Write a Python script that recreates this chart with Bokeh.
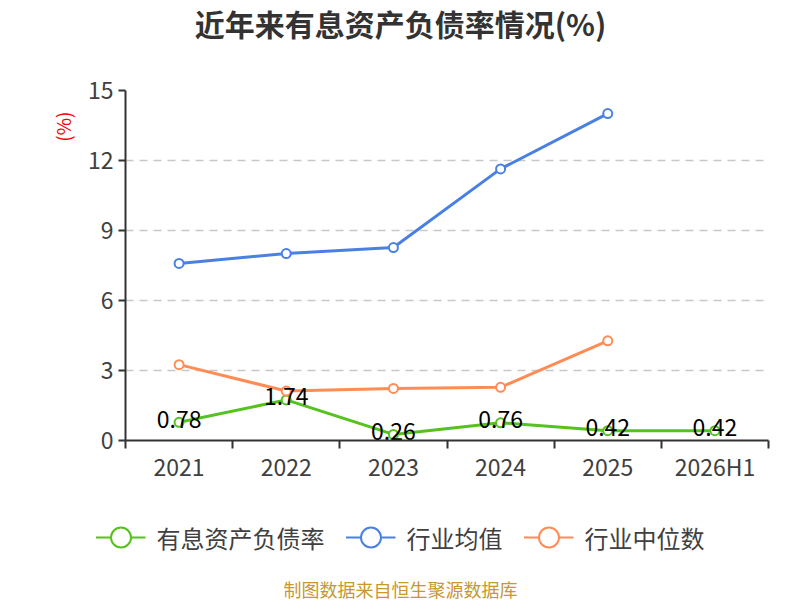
from bokeh.plotting import figure
from bokeh.layouts import column
from bokeh.models import (ColumnDataSource, Range1d, FixedTicker, Legend, LegendItem,
                          Title)
from bokeh.embed import file_html
from bokeh.resources import INLINE
from bokeh.core.properties import value

# data
categories = ["2021", "2022", "2023", "2024", "2025", "2026H1"]
debt_ratio = [0.78, 1.74, 0.26, 0.76, 0.42, 0.42]
industry_mean = [7.59, 8.01, 8.27, 11.64, 14.01]
industry_median = [3.25, 2.12, 2.23, 2.28, 4.27]
y_ticks = [0, 3, 6, 9, 12, 15]
series_names = ["有息资产负债率", "行业均值", "行业中位数"]

FONT = "Noto Sans CJK SC"
GREEN, BLUE, ORANGE = "#55c21e", "#4a80e2", "#ff8c55"
W = 800


def blank(h):
    f = figure(width=W, height=h, output_backend="svg", toolbar_location=None,
               x_range=Range1d(0, W), y_range=Range1d(0, h),
               x_axis_location=None, y_axis_location=None, min_border=0)
    f.outline_line_color = None
    f.grid.grid_line_color = None
    f.frame_align = False   # keep its own full-width frame in the column
    return f


# header with the title
head = blank(50)
head.text([W / 2], [28], text=["近年来有息资产负债率情况(%)"], text_align="center",
          text_baseline="middle", text_font=value(FONT), text_font_size="30px",
          text_font_style="bold", text_color="#333333")

# main chart
xc = [i + 0.5 for i in range(len(categories))]

p = figure(width=W, height=450, output_backend="svg", toolbar_location=None,
           x_range=Range1d(0, len(categories)), y_range=Range1d(0, 15),
           min_border_left=125, min_border_right=32, min_border_top=40,
           min_border_bottom=60)
p.outline_line_color = None

xa = p.xaxis[0]
xa.ticker = FixedTicker(ticks=xc, minor_ticks=list(range(len(categories) + 1)))
xa.major_label_overrides = {x: c for x, c in zip(xc, categories)}
xa.major_tick_out = 0
xa.major_tick_in = 0
xa.minor_tick_out = 8
xa.minor_tick_in = 0
xa.minor_tick_line_color = "#333333"
xa.minor_tick_line_width = 2
xa.axis_line_color = "#333333"
xa.axis_line_width = 2
xa.major_label_text_font = FONT
xa.major_label_text_font_size = "23px"
xa.major_label_text_color = "#404040"
xa.major_label_standoff = 0

ya = p.yaxis[0]
ya.ticker = FixedTicker(ticks=y_ticks, minor_ticks=[])
ya.major_tick_out = 7
ya.major_tick_in = 0
ya.major_tick_line_color = "#333333"
ya.major_tick_line_width = 2
ya.axis_line_color = "#333333"
ya.axis_line_width = 2
ya.major_label_text_font = FONT
ya.major_label_text_font_size = "23px"
ya.major_label_text_color = "#404040"
ya.major_label_standoff = 5

p.xgrid.grid_line_color = None
p.ygrid.ticker = FixedTicker(ticks=y_ticks[1:])
p.ygrid.grid_line_color = "#c8c8c8"
p.ygrid.grid_line_dash = "8 6"
p.ygrid.grid_line_width = 1.5

# unit mark at the top of the y axis
p.add_layout(Title(text="(%)", align="right", offset=21, text_font=FONT,
                   text_font_size="19px", text_font_style="normal",
                   text_color="#ff0000", standoff=18), "left")

series = [(series_names[0], debt_ratio, GREEN),
          (series_names[1], industry_mean, BLUE),
          (series_names[2], industry_median, ORANGE)]
for name, vals, col in series:
    src = ColumnDataSource(dict(x=xc[:len(vals)], y=vals))
    p.line("x", "y", source=src, line_color=col, line_width=3)
    p.scatter("x", "y", source=src, size=9, marker="circle",
              line_color=col, line_width=2, fill_color="white")

lab_src = ColumnDataSource(dict(x=xc[:len(debt_ratio)], y=debt_ratio,
                                t=["%.2f" % v for v in debt_ratio]))
p.text("x", "y", text="t", source=lab_src, text_align="center",
       text_baseline="middle", y_offset=-3, text_font=value(FONT),
       text_font_size="23px", text_color="#000000")

# footer: legend + source note
foot = blank(100)
items = []
for name, vals, col in series:
    dummy = ColumnDataSource(dict(x=[float("nan")], y=[float("nan")]))
    ln = foot.line("x", "y", source=dummy, line_color=col, line_width=2)
    sc = foot.scatter("x", "y", source=dummy, marker="circle", line_color=col,
                      line_width=2, fill_color="white")
    items.append(LegendItem(label=name, renderers=[ln, sc]))

legend = Legend(items=items, orientation="horizontal", location="top_center",
                label_text_font=FONT, label_text_font_size="24px",
                label_text_color="#404040", glyph_width=50, glyph_height=52,
                spacing=21, label_standoff=11, padding=0, margin=11,
                border_line_color=None, background_fill_alpha=0)
foot.add_layout(legend, "center")

foot.text([W / 2], [12], text=["制图数据来自恒生聚源数据库"], text_align="center",
          text_baseline="middle", text_font=value(FONT), text_font_size="18px",
          text_color="#c9962f")

page = column(head, p, foot, spacing=0)
open("out.html", "w").write(file_html(page, INLINE))
